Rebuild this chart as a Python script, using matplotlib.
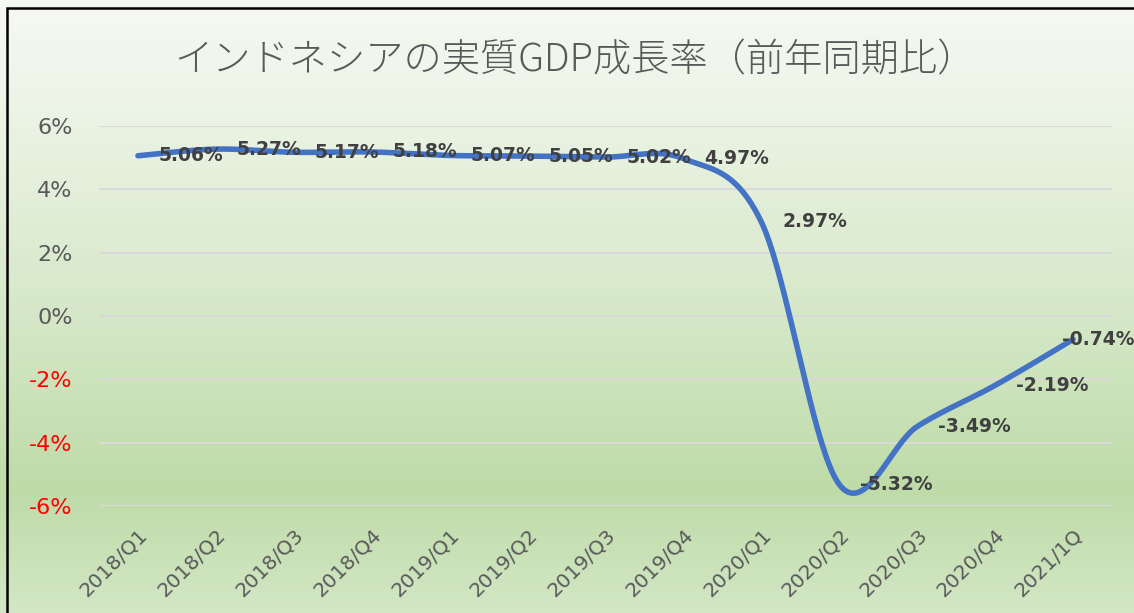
import numpy as np
import matplotlib
matplotlib.use("Agg")
import matplotlib.pyplot as plt
from matplotlib.patches import Rectangle

# chart data
quarters = ["2018/Q1", "2018/Q2", "2018/Q3", "2018/Q4",
            "2019/Q1", "2019/Q2", "2019/Q3", "2019/Q4",
            "2020/Q1", "2020/Q2", "2020/Q3", "2020/Q4", "2021/1Q"]
growth = [5.06, 5.27, 5.17, 5.18, 5.07, 5.05, 5.02, 4.97,
          2.97, -5.32, -3.49, -2.19, -0.74]
yticks = [-6, -4, -2, 0, 2, 4, 6]
title = "インドネシアの実質GDP成長率（前年同期比）"

LINE = "#4472C4"
TXT = "#595959"
LBL = "#404040"
W, H = 1134, 613


def smooth(xs, ys, n=40):
    # Excel-style smoothed line: cubic bezier through each point
    p = np.column_stack([xs, ys]).astype(float)
    ext = np.vstack([p[0], p, p[-1]])
    out = []
    t = np.linspace(0, 1, n)[:, None]
    for i in range(len(p) - 1):
        p0, p1 = ext[i + 1], ext[i + 2]
        c1 = p0 + (ext[i + 2] - ext[i]) / 6
        c2 = p1 - (ext[i + 3] - ext[i + 1]) / 6
        seg = ((1 - t) ** 3) * p0 + 3 * ((1 - t) ** 2) * t * c1 \
            + 3 * (1 - t) * t ** 2 * c2 + t ** 3 * p1
        out.append(seg)
    out = np.vstack(out)
    return out[:, 0], out[:, 1]


fig = plt.figure(figsize=(W / 100, H / 100), dpi=100)

# gradient background
bg = fig.add_axes([0, 0, 1, 1], zorder=-10)
stops = np.array([0.0, 0.15, 0.5, 0.8, 1.0])
cols = np.array([[246, 249, 243], [238, 245, 232], [214, 232, 201],
                 [190, 219, 168], [211, 231, 197]]) / 255
yy = np.linspace(0, 1, 400)
grad = np.stack([np.interp(yy, stops, cols[:, k]) for k in range(3)], axis=-1)
bg.imshow(grad[:, None, :], aspect="auto", extent=[0, 1, 1, 0])
bg.set_xlim(0, 1); bg.set_ylim(1, 0)
bg.axis("off")
fig.patches.append(Rectangle((7 / W, -0.05), 1.1, 1 - 8 / H + 0.05,
                             transform=fig.transFigure, fill=False,
                             ec="black", lw=1.8, zorder=5))

ax = fig.add_axes([99 / W, (H - 506) / H, (1112 - 99) / W, 380 / H])
ax.set_facecolor("none")
x = np.arange(len(quarters))
sx, sy = smooth(x, growth)
ax.plot(sx, sy, color=LINE, lw=4, solid_capstyle="round", zorder=3)

for i, v in enumerate(growth):
    dx = 15 if i < len(growth) - 1 else -8
    ax.annotate(f"{v:.2f}%", (i, v), xytext=(dx, 0), textcoords="offset points",
                ha="left", va="center", fontsize=13.5, fontweight="bold",
                color=LBL, zorder=4, annotation_clip=False)

ax.set_xlim(-0.5, len(quarters) - 0.5)
ax.set_ylim(-6, 6)
ax.set_yticks(yticks)
ax.set_yticklabels([f"{t}%" for t in yticks], fontsize=16)
for lab, t in zip(ax.get_yticklabels(), yticks):
    lab.set_color("red" if t < 0 else TXT)
ax.set_xticks(x)
ax.set_xticklabels(quarters, rotation=45, ha="right", rotation_mode="anchor",
                   fontsize=14.5, color=TXT)
ax.tick_params(axis="both", length=0)
ax.tick_params(axis="x", pad=14)
ax.yaxis.set_tick_params(pad=19)
ax.grid(axis="y", color="#d9d9d9", lw=1.5)
ax.set_axisbelow(True)
for s in ax.spines.values():
    s.set_visible(False)

fig.text(0.5 + 8 / W, 1 - 61 / H, title, ha="center", va="center", fontsize=27.5,
         color=TXT, family=["Noto Sans CJK JP", "DejaVu Sans"], fontweight="light")

fig.savefig("out.png", dpi=100)
